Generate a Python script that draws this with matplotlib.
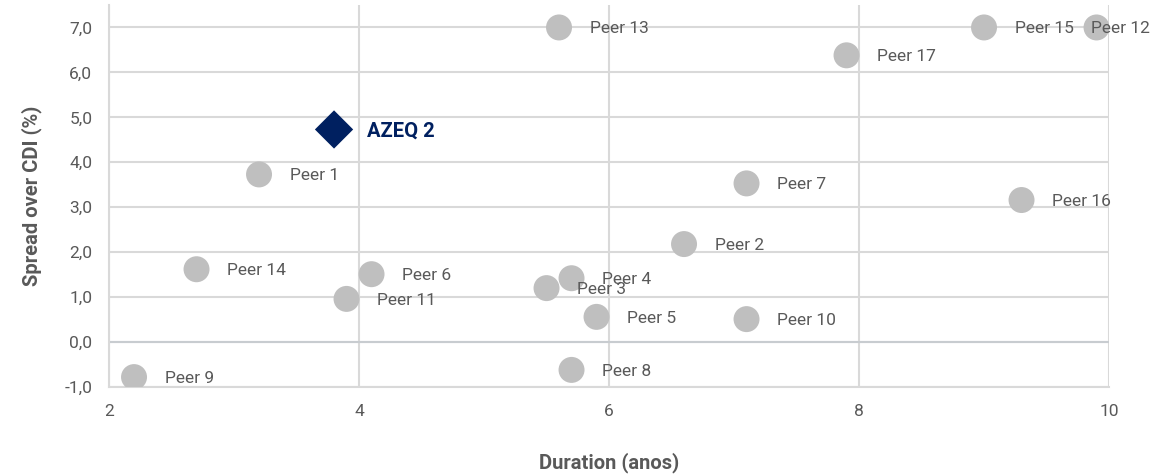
import matplotlib.pyplot as plt
from matplotlib.ticker import FuncFormatter

plt.rcParams['font.family'] = ['Roboto', 'DejaVu Sans']

# peers: duration (anos) x spread over CDI (%)
peer_names = ["Peer 1", "Peer 2", "Peer 3", "Peer 4", "Peer 5", "Peer 6",
              "Peer 7", "Peer 8", "Peer 9", "Peer 10", "Peer 11", "Peer 12",
              "Peer 13", "Peer 14", "Peer 15", "Peer 16", "Peer 17"]
peer_duration = [3.2, 6.6, 5.5, 5.7, 5.9, 4.1, 7.1, 5.7, 2.2, 7.1, 3.9, 9.9,
                 5.6, 2.7, 9.0, 9.3, 7.9]
peer_spread = [3.73, 2.18, 1.20, 1.42, 0.56, 1.51, 3.53, -0.62, -0.78, 0.51,
               0.96, 7.0, 7.0, 1.62, 7.0, 3.16, 6.38]

fund_name = "AZEQ 2"
fund_duration = [3.8]
fund_spread = [4.73]

x_ticks = [2, 4, 6, 8, 10]
y_ticks = [-1, 0, 1, 2, 3, 4, 5, 6, 7]

GREY = "#BFBFBF"
NAVY = "#002060"
TEXT = "#595959"

fig = plt.figure(figsize=(11.55, 4.75), dpi=100)
ax = fig.add_axes([0.0944, 0.1853, 0.8658, 0.8042])

ax.set_xlim(2, 10)
ax.set_ylim(-1, 7.5)
ax.set_xticks(x_ticks)
ax.set_yticks(y_ticks)
ax.yaxis.set_major_formatter(FuncFormatter(lambda v, p: f"{v:.1f}".replace(".", ",")))
ax.xaxis.set_major_formatter(FuncFormatter(lambda v, p: f"{v:.0f}"))

ax.grid(True, color="#D9D9D9", linewidth=1.5)
ax.set_axisbelow(True)
ax.axhline(0, color="#C8CCD0", linewidth=1.5, zorder=1)
for s in ["top", "right"]:
    ax.spines[s].set_visible(False)
for s in ["left", "bottom"]:
    ax.spines[s].set_color("#D9D9D9")
    ax.spines[s].set_linewidth(1.5)
ax.tick_params(length=0, labelsize=12.5, labelcolor=TEXT)
ax.tick_params(axis="y", pad=12)
ax.tick_params(axis="x", pad=12)

ax.scatter(peer_duration, peer_spread, s=350, color=GREY, edgecolors="none", zorder=3)
ax.scatter(fund_duration, fund_spread, s=380, marker="D", color=NAVY, edgecolors="none", zorder=4)

for name, x, y in zip(peer_names, peer_duration, peer_spread):
    dx = 22
    if x + 0.6 > 10:
        # last label pulled back so it stays inside the figure
        dx = -4
    ax.annotate(name, (x, y), xytext=(dx, -1), textcoords="offset points",
                va="center", ha="left", fontsize=12.5, color=TEXT, zorder=5)
ax.annotate(fund_name, (fund_duration[0], fund_spread[0]), xytext=(24, -1),
            textcoords="offset points", va="center", ha="left", fontsize=14.5,
            fontweight="bold", color=NAVY, zorder=5)

ax.set_xlabel("Duration (anos)", fontsize=14.5, fontweight="bold", color=TEXT, labelpad=24)
ax.set_ylabel("Spread over CDI (%)", fontsize=14.5, fontweight="bold", color=TEXT, labelpad=16)

fig.savefig("out.png", dpi=100)
